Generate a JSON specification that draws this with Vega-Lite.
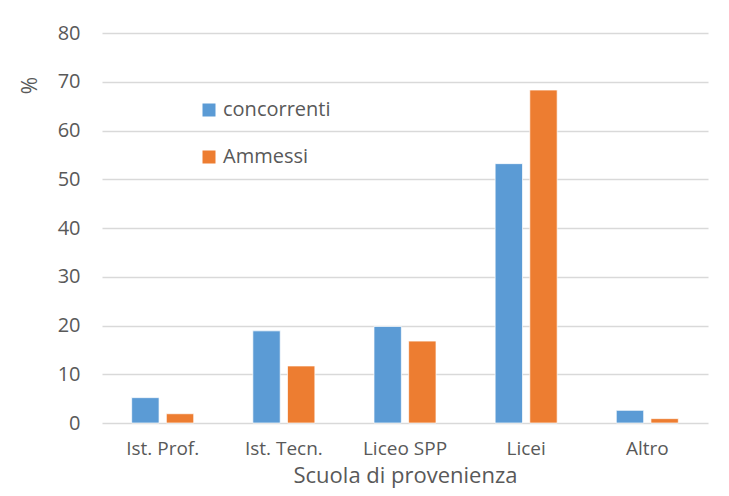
{
  "$schema": "https://vega.github.io/schema/vega-lite/v6.json",
  "width": 606,
  "height": 390,
  "autosize": {"type": "none"},
  "padding": {"left": 102, "top": 33, "right": 21, "bottom": 73},
  "background": "white",
  "config": {
    "font": "Open Sans",
    "view": {"stroke": null},
    "axis": {"labelColor": "#595959", "titleColor": "#595959", "titleFontWeight": "normal"}
  },
  "data": {
    "values": [
      {"scuola": "Ist. Prof.", "serie": "concorrenti", "valore": 5.2},
      {"scuola": "Ist. Prof.", "serie": "Ammessi", "valore": 1.9},
      {"scuola": "Ist. Tecn.", "serie": "concorrenti", "valore": 18.9},
      {"scuola": "Ist. Tecn.", "serie": "Ammessi", "valore": 11.7},
      {"scuola": "Liceo SPP", "serie": "concorrenti", "valore": 19.8},
      {"scuola": "Liceo SPP", "serie": "Ammessi", "valore": 16.8},
      {"scuola": "Licei", "serie": "concorrenti", "valore": 53.2},
      {"scuola": "Licei", "serie": "Ammessi", "valore": 68.3},
      {"scuola": "Altro", "serie": "concorrenti", "valore": 2.6},
      {"scuola": "Altro", "serie": "Ammessi", "valore": 0.9}
    ]
  },
  "mark": {"type": "bar", "stroke": "#ffffff", "strokeWidth": 0.7},
  "encoding": {
    "x": {
      "field": "scuola",
      "type": "nominal",
      "sort": ["Ist. Prof.", "Ist. Tecn.", "Liceo SPP", "Licei", "Altro"],
      "scale": {"paddingInner": 0.488, "paddingOuter": 0.245},
      "axis": {
        "title": "Scuola di provenienza",
        "titleFontSize": 22,
        "titlePadding": 7,
        "labelFontSize": 19,
        "labelAngle": 0,
        "labelPadding": 16,
        "ticks": false,
        "domain": false,
        "grid": false
      }
    },
    "xOffset": {
      "field": "serie",
      "type": "nominal",
      "sort": ["concorrenti", "Ammessi"],
      "scale": {"paddingInner": 0.21, "paddingOuter": 0}
    },
    "y": {
      "field": "valore",
      "type": "quantitative",
      "scale": {"domain": [0, 80]},
      "axis": {
        "title": "%",
        "titleFontSize": 21,
        "titleX": -72,
        "titleY": 52,
        "titleAngle": 270,
        "titleAlign": "center",
        "titleBaseline": "middle",
        "values": [0, 10, 20, 30, 40, 50, 60, 70, 80],
        "labelFontSize": 20,
        "labelPadding": 22,
        "ticks": false,
        "domain": false,
        "grid": true,
        "gridColor": "#D9D9D9",
        "gridWidth": 1.3
      }
    },
    "color": {
      "field": "serie",
      "type": "nominal",
      "sort": ["concorrenti", "Ammessi"],
      "scale": {"domain": ["concorrenti", "Ammessi"], "range": ["#5B9BD5", "#ED7D31"]},
      "legend": {
        "title": null,
        "orient": "none",
        "legendX": 97,
        "legendY": 67,
        "symbolType": "square",
        "symbolSize": 169,
        "symbolStrokeWidth": 0,
        "labelFontSize": 20,
        "labelColor": "#595959",
        "labelOffset": 4,
        "rowPadding": 27
      }
    }
  }
}
